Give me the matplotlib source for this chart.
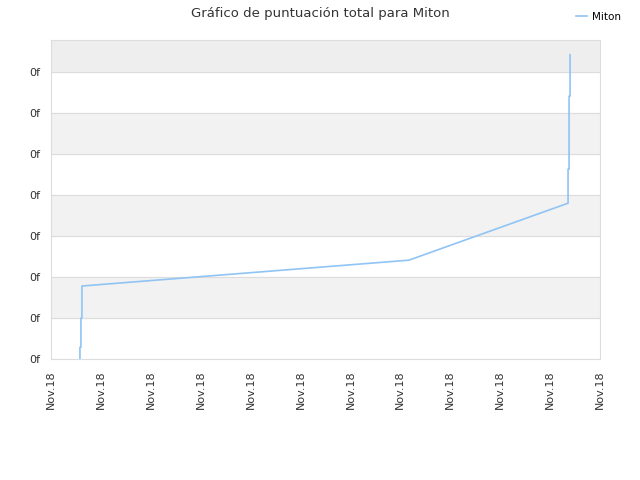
import matplotlib.pyplot as plt

# series (x in tick units, y in gridline units)
x_vals = [0.58, 0.58, 0.60, 0.60, 0.62, 0.62, 7.17, 10.36, 10.36, 10.38, 10.38, 10.40, 10.40]
y_vals = [0.0, 0.29, 0.29, 1.0, 1.0, 1.78, 2.41, 3.80, 4.63, 4.63, 6.41, 6.41, 7.42]
x_labels = ["Nov.18"] * 12
y_labels = ["0f"] * 8

fig = plt.figure(figsize=(6.4, 4.8), dpi=100)
ax = fig.add_axes([51/640, 121/480, 549/640, 319/480])
ymax = 7.78
for lo in [1, 3, 5, 7]:
    ax.axhspan(lo, min(lo + 1, ymax), color="#f2f2f2" if lo < 7 else "#eeeeee", zorder=0)
ax.plot(x_vals, y_vals, color="#90c4f4", lw=1.2, label="Miton")
ax.set_xlim(0, 11)
ax.set_ylim(0, ymax)
ax.set_xticks(range(12))
ax.set_xticklabels(x_labels, rotation=90, fontsize=8, color="#333333")
ax.set_yticks(range(8))
ax.set_yticklabels(y_labels, fontsize=8, color="#333333")
ax.grid(axis="y", color="#dddddd", lw=0.8)
ax.set_axisbelow(True)
ax.tick_params(length=0, pad=8)
for s in ax.spines.values():
    s.set_color("#dddddd")
fig.suptitle("Gráfico de puntuación total para Miton", x=0.5, y=0.985, fontsize=9.5, color="#333333")
fig.legend(loc="upper right", bbox_to_anchor=(0.985, 0.995), frameon=False, fontsize=7.5,
           handlelength=1, handletextpad=0.5)
fig.savefig("out.png")
